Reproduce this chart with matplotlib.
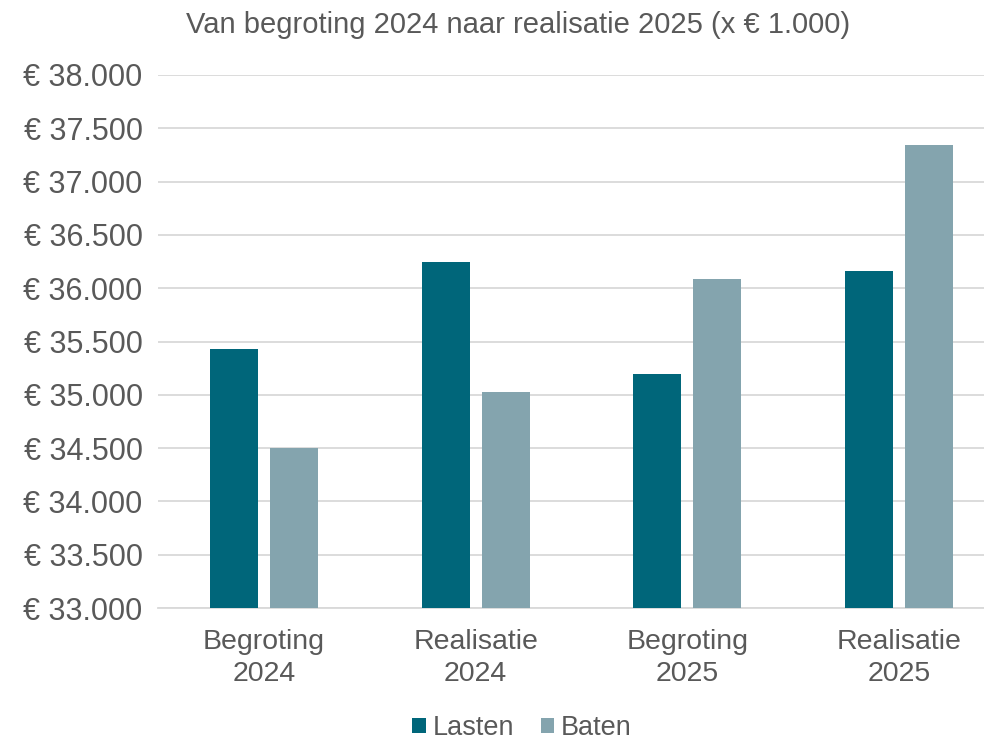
import matplotlib.pyplot as plt
import numpy as np

plt.rcParams["font.family"] = ["Liberation Sans", "DejaVu Sans"]

# ---------------------------------------------------------------------
# Data (x EUR 1.000).
# ---------------------------------------------------------------------
CATEGORIES = ["Begroting\n2024", "Realisatie\n2024", "Begroting\n2025", "Realisatie\n2025"]
LASTEN = [35430, 36250, 35195, 36160]
BATEN = [34500, 35025, 36085, 37345]
Y_TICKS = [33000, 33500, 34000, 34500, 35000, 35500, 36000, 36500, 37000, 37500, 38000]

COLOR_LASTEN = "#00667A"
COLOR_BATEN = "#84A4AE"
TEXT_COLOR = "#595959"
GRID_COLOR = "#D9D9D9"


def euro(v):
    s = f"{int(v):,}".replace(",", ".")
    return f"€ {s}"


fig = plt.figure(figsize=(9.84, 7.41), dpi=100)
ax = fig.add_axes([158 / 984, 133 / 741, 847 / 984, 533 / 741])

x = np.arange(len(CATEGORIES))
w = 0.227
off = 0.142
base = Y_TICKS[0]
ax.bar(x - off, np.array(LASTEN) - base, w, bottom=base, color=COLOR_LASTEN,
       label="Lasten", zorder=3)
ax.bar(x + off, np.array(BATEN) - base, w, bottom=base, color=COLOR_BATEN,
       label="Baten", zorder=3)

ax.set_xlim(-0.5, len(CATEGORIES) - 0.5)
ax.set_ylim(Y_TICKS[0], Y_TICKS[-1])
ax.set_yticks(Y_TICKS)
ax.set_yticklabels([euro(v) for v in Y_TICKS], fontsize=22, color=TEXT_COLOR)
ax.set_xticks(x)
ax.set_xticklabels(CATEGORIES, fontsize=20.5, color=TEXT_COLOR, linespacing=1.3)
ax.tick_params(axis="both", length=0)
ax.tick_params(axis="y", pad=11)
ax.tick_params(axis="x", pad=15)

ax.grid(axis="y", color=GRID_COLOR, linewidth=1.3, zorder=0)
for sp in ["top", "right", "left"]:
    ax.spines[sp].set_visible(False)
ax.spines["bottom"].set_color(GRID_COLOR)
ax.spines["bottom"].set_linewidth(1.3)

fig.text(518 / 984, 1 - 25 / 741, "Van begroting 2024 naar realisatie 2025 (x € 1.000)",
         ha="center", va="center", fontsize=21, color=TEXT_COLOR)

fig.legend(loc="center", bbox_to_anchor=(522 / 984, 1 - 728 / 741), ncol=2,
           frameon=False, fontsize=19.5, handlelength=0.5, handleheight=0.5,
           handletextpad=0.25, columnspacing=1.0, labelcolor=TEXT_COLOR)

fig.savefig("out.png", dpi=100)
